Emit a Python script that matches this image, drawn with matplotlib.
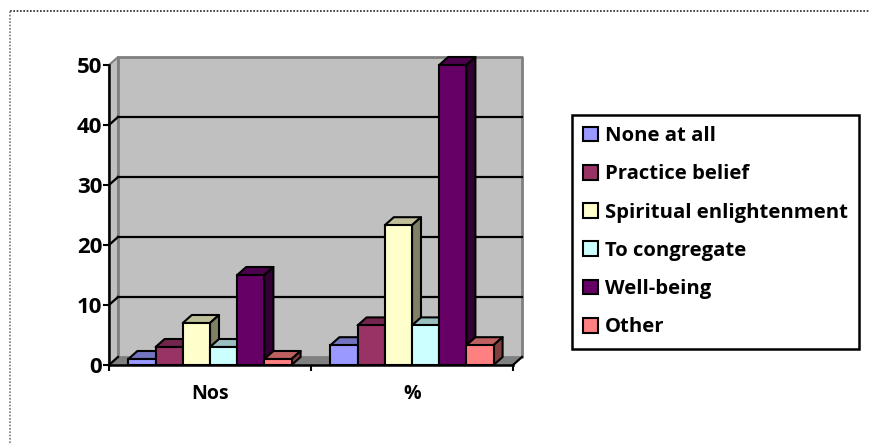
import matplotlib
matplotlib.use('Agg')
import matplotlib.pyplot as plt
from matplotlib.patches import Patch, Polygon
from matplotlib.lines import Line2D
from matplotlib.colors import to_rgb

plt.rcParams['font.family'] = ['Open Sans', 'DejaVu Sans']
plt.rcParams['font.weight'] = 'bold'

# data
categories = ['Nos', '%']
series = ['None at all', 'Practice belief', 'Spiritual enlightenment',
          'To congregate', 'Well-being', 'Other']
nos = [1, 3, 7, 3, 15, 1]
pct = [3.3, 6.6, 23.3, 6.6, 50, 3.3]
colors = ['#9999FF', '#993366', '#FFFFCC', '#CCFFFF', '#660066', '#FF8080']
yticks = [0, 10, 20, 30, 40, 50]

W, H = 869, 443
fig = plt.figure(figsize=(W / 100, H / 100), dpi=100)
ax = fig.add_axes([109 / W, 1 - 365 / H, 404 / W, 300 / H])
ax.set_xlim(0, 2)
ax.set_ylim(0, 50)

# 3d depth in data units
dx = 9 / 202
dy = 8 / 6
bar_w = 27.2 / 202


def shade(c, k):
    r, g, b = to_rgb(c)
    return (r * k, g * k, b * k)


def poly(pts, fc, ec='none', lw=0, z=1):
    ax.add_patch(Polygon(pts, closed=True, facecolor=fc, edgecolor=ec,
                         linewidth=lw, zorder=z, clip_on=False, joinstyle='round'))


# walls and floor
poly([(0, 0), (dx, dy), (dx, 50 + dy), (0, 50)], '#C0C0C0', '#808080', 1.5)
poly([(dx, dy), (2 + dx, dy), (2 + dx, 50 + dy), (dx, 50 + dy)], '#C0C0C0', '#808080', 2)
poly([(0, 0), (2, 0), (2 + dx, dy), (dx, dy)], '#808080')

for v in yticks[1:-1]:
    ax.plot([dx, 2 + dx], [v + dy, v + dy], color='black', lw=1.6, zorder=2, clip_on=False)
for v in yticks[:-1]:
    ax.plot([0, dx], [v, v + dy], color='black', lw=1.6, zorder=2, clip_on=False)
ax.plot([2, 2 + dx], [0, dy], color='black', lw=1.6, zorder=2, clip_on=False)

# bars
z = 3
for g, vals in enumerate([nos, pct]):
    start = g + 0.5 - 3 * bar_w
    for s, v in enumerate(vals):
        x0 = start + s * bar_w
        x1 = x0 + bar_w
        c = colors[s]
        poly([(x0, v), (x1, v), (x1 + dx, v + dy), (x0 + dx, v + dy)], shade(c, 0.75), 'black', 1.5, z)
        poly([(x1, 0), (x1 + dx, dy), (x1 + dx, v + dy), (x1, v)], shade(c, 0.5), 'black', 1.5, z)
        ax.bar(x0, v, width=bar_w, align='edge', color=c, edgecolor='black',
               linewidth=1.5, zorder=z, clip_on=False)
        z += 1

# axes
for sp in ['top', 'right']:
    ax.spines[sp].set_visible(False)
for sp in ['left', 'bottom']:
    ax.spines[sp].set_linewidth(1.8)
    ax.spines[sp].set_zorder(50)
ax.set_yticks(yticks)
ax.set_xticks([0.5, 1.5])
ax.set_xticklabels(categories)
ax.set_xticks([0, 1, 2], minor=True)
ax.tick_params(axis='x', which='major', length=0, pad=14, labelsize=14)
ax.tick_params(axis='x', which='minor', length=4, width=1.5)
ax.tick_params(axis='y', length=4, width=1.5, labelsize=16, pad=1)

# legend
handles = [Patch(facecolor=c, edgecolor='black', linewidth=1.5) for c in colors]
leg = fig.legend(handles, series, loc='upper left',
                 bbox_to_anchor=(572 / W, 1 - 115 / H), bbox_transform=fig.transFigure,
                 fontsize=14.6, frameon=True, fancybox=False, borderaxespad=0,
                 handlelength=0.74, handleheight=0.74, handletextpad=0.34,
                 labelspacing=0.9, borderpad=0.55)
leg.get_frame().set_edgecolor('black')
leg.get_frame().set_linewidth(1.8)
leg.get_frame().set_alpha(1)

# dotted page border
fig.add_artist(Line2D([10 / W, 1], [1 - 11 / H, 1 - 11 / H], color='#222222', lw=1.2, ls=(0, (1, 1))))
fig.add_artist(Line2D([10 / W, 10 / W], [0, 1 - 11 / H], color='#777777', lw=1.2, ls=(0, (1, 1))))

fig.savefig('out.png', dpi=100)
